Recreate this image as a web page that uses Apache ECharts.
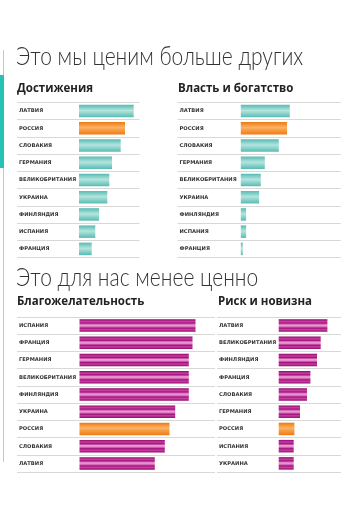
<!DOCTYPE html>
<html><head><meta charset="utf-8">
<script src="https://cdn.jsdelivr.net/npm/echarts@6/dist/echarts.min.js"></script>
<style>html,body{margin:0;padding:0;background:#fff}#c{width:350px;height:521px}</style>
</head><body><div id="c"></div>
<script>
// Достижения
const cats1 = ['ЛАТВИЯ','РОССИЯ','СЛОВАКИЯ','ГЕРМАНИЯ','ВЕЛИКОБРИТАНИЯ','УКРАИНА','ФИНЛЯНДИЯ','ИСПАНИЯ','ФРАНЦИЯ'];
const vals1 = [54.7, 46, 41.7, 33, 30.3, 28.3, 20, 16.3, 12.7];
// Власть и богатство
const cats2 = ['ЛАТВИЯ','РОССИЯ','СЛОВАКИЯ','ГЕРМАНИЯ','ВЕЛИКОБРИТАНИЯ','УКРАИНА','ФИНЛЯНДИЯ','ИСПАНИЯ','ФРАНЦИЯ'];
const vals2 = [49, 46.3, 38, 24, 20, 18.3, 5.3, 5.3, 2];
// Благожелательность
const cats3 = ['ИСПАНИЯ','ФРАНЦИЯ','ГЕРМАНИЯ','ВЕЛИКОБРИТАНИЯ','ФИНЛЯНДИЯ','УКРАИНА','РОССИЯ','СЛОВАКИЯ','ЛАТВИЯ'];
const vals3 = [116, 113, 109.3, 109.3, 109.3, 95.7, 90, 85.3, 75.3];
// Риск и новизна
const cats4 = ['ЛАТВИЯ','ВЕЛИКОБРИТАНИЯ','ФИНЛЯНДИЯ','ФРАНЦИЯ','СЛОВАКИЯ','ГЕРМАНИЯ','РОССИЯ','ИСПАНИЯ','УКРАИНА'];
const vals4 = [48.7, 42, 38.3, 31.7, 28.3, 21.3, 15.7, 15, 15];

const titles = ['Это мы ценим больше других','Это для нас менее ценно'];
const subtitles = ['Достижения','Власть и богатство','Благожелательность','Риск и новизна'];
const highlight = 'РОССИЯ';

function grad(stops){return {type:'linear',x:0,y:0,x2:0,y2:1,colorStops:stops.map(s=>({offset:s[0],color:s[1]}))};}
const teal = grad([[0,'#55bcb2'],[0.45,'#b3e4de'],[0.55,'#a6ddd7'],[1,'#55bcb2']]);
const orange = grad([[0,'#ee7a12'],[0.45,'#fbb468'],[0.55,'#f9a550'],[1,'#ee7a12']]);
const purple = grad([[0,'#95076f'],[0.18,'#c73f9f'],[0.3,'#a2127c'],[0.45,'#ec9ad6'],[0.55,'#e48acb'],[0.7,'#a2127c'],[0.82,'#c73f9f'],[1,'#95076f']]);

const layout = [
  {left:17, width:122.5, top:102.5, min:-62, max:60.5, cats:cats1, vals:vals1, col:teal},
  {left:177.5, width:163.3, top:102.5, min:-63.3, max:100, cats:cats2, vals:vals2, col:teal},
  {left:17, width:198, top:317, min:-62.5, max:135.5, cats:cats3, vals:vals3, col:purple},
  {left:217, width:124, top:317, min:-61.7, max:62.3, cats:cats4, vals:vals4, col:purple}
];

const grid=[], xAxis=[], yAxis=[], series=[];
layout.forEach((L,i)=>{
  grid.push({left:L.left, width:L.width, top:L.top, height:155});
  xAxis.push({gridIndex:i, type:'value', min:L.min, max:L.max, show:false});
  yAxis.push({gridIndex:i, type:'category', data:L.cats, inverse:true, z:5,
    axisLine:{show:false}, axisTick:{show:false},
    splitLine:{show:true, lineStyle:{color:'#d8d8d8', width:1}},
    axisLabel:{inside:true, margin:2, color:'#333', fontFamily:'DejaVu Sans', fontWeight:'bold', fontSize:5.2, align:'left'}});
  series.push({type:'bar', xAxisIndex:i, yAxisIndex:i, barWidth:12.5, silent:true, z:2,
    data:L.vals.map((v,k)=>({value:v, itemStyle:{color: L.cats[k]===highlight ? orange : L.col}}))});
});

const graphic = [
  {type:'rect', shape:{x:3, y:50, width:1, height:412}, style:{fill:'#c8c8c8'}},
  {type:'rect', shape:{x:0, y:75, width:4, height:93}, style:{fill:'#27c2b6'}},
  {type:'text', x:16, y:44, scaleX:0.84, style:{text:titles[0], fill:'#333', font:'300 25px Lato'}},
  {type:'text', x:16, y:265, scaleX:0.84, style:{text:titles[1], fill:'#333', font:'300 25px Lato'}},
  {type:'text', x:17, y:83, style:{text:subtitles[0], fill:'#222', font:'bold 11.5px "Open Sans"'}},
  {type:'text', x:178, y:83, style:{text:subtitles[1], fill:'#222', font:'bold 11.5px "Open Sans"'}},
  {type:'text', x:17, y:296, style:{text:subtitles[2], fill:'#222', font:'bold 11.5px "Open Sans"'}},
  {type:'text', x:218, y:296, style:{text:subtitles[3], fill:'#222', font:'bold 11.5px "Open Sans"'}}
];

const chart = echarts.init(document.getElementById('c'), null, {renderer:'canvas'});
chart.setOption({animation:false, grid, xAxis, yAxis, series, graphic});
</script></body></html>
